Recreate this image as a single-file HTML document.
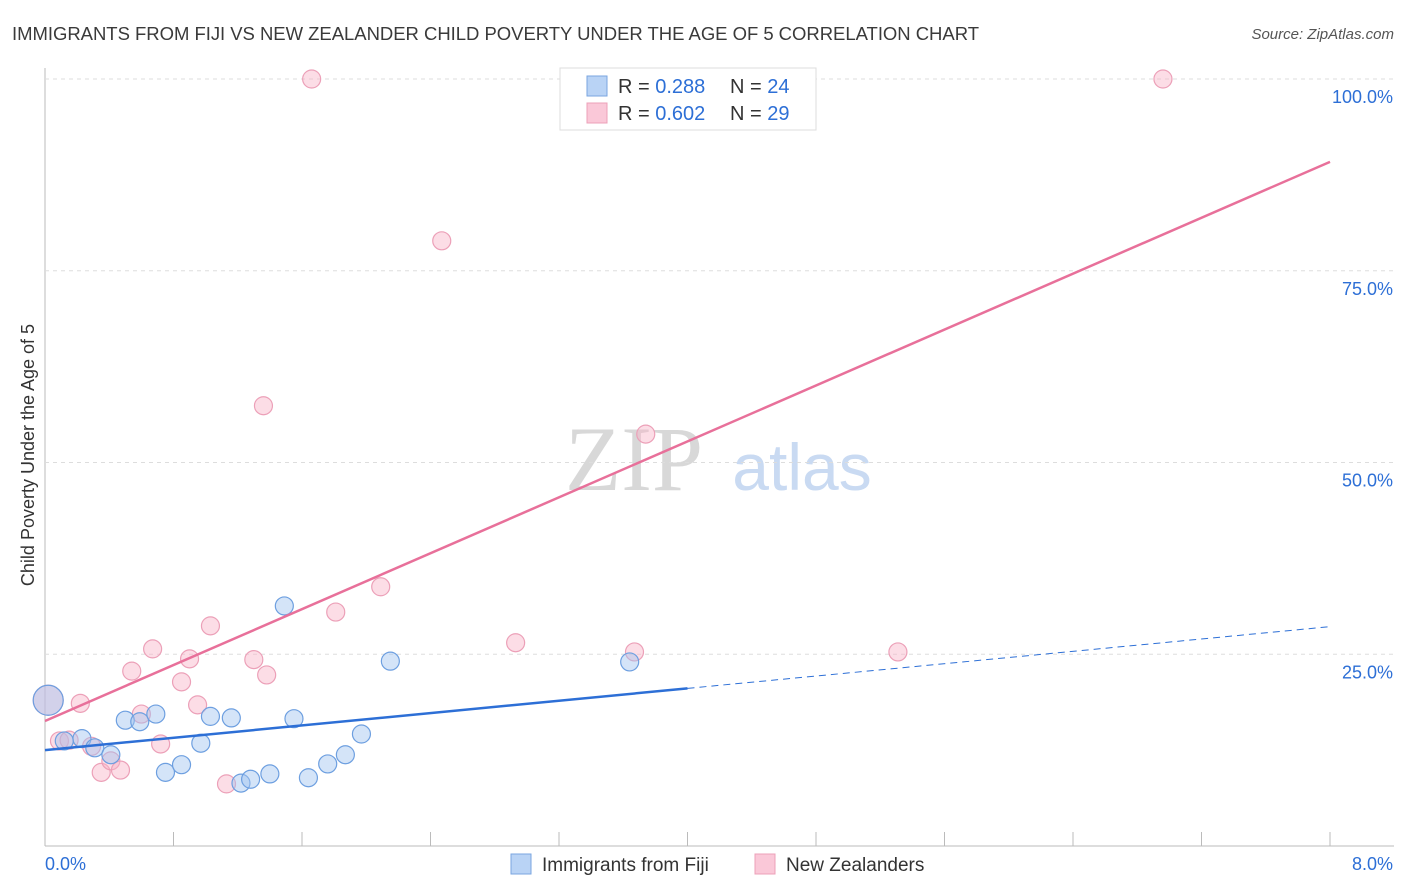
<!DOCTYPE html>
<html><head><meta charset="utf-8"><style>
body{margin:0;background:#fff;font-family:"Liberation Sans",sans-serif;}
svg{display:block}
</style></head><body>
<svg id="chart" width="1406" height="892">
<text x="12" y="40" font-size="18.5" fill="#3a3a3a" textLength="967">IMMIGRANTS FROM FIJI VS NEW ZEALANDER CHILD POVERTY UNDER THE AGE OF 5 CORRELATION CHART</text>
<text x="1394" y="39" font-size="15" fill="#555" text-anchor="end" font-style="italic">Source: ZipAtlas.com</text>
<text x="634" y="490" font-size="92" fill="#d8d8d8" font-family="Liberation Serif,serif" text-anchor="middle">ZIP</text>
<text x="802" y="490" font-size="66" fill="#c9daf2" text-anchor="middle">atlas</text>
<g id="grid"></g>
<g id="marks"></g>
<text transform="translate(34,455) rotate(-90)" font-size="18" fill="#333" text-anchor="middle">Child Poverty Under the Age of 5</text>
<g>
<rect x="560" y="68" width="256" height="62" fill="#fff" stroke="#ddd"/>
<rect x="587" y="76" width="20" height="20" fill="#b9d3f5" stroke="#7aa6e0"/>
<rect x="587" y="103" width="20" height="20" fill="#fac8d8" stroke="#eca0b8"/>
<text x="618" y="93" font-size="20" fill="#333">R = <tspan fill="#2d6fd6">0.288</tspan></text>
<text x="730" y="93" font-size="20" fill="#333">N = <tspan fill="#2d6fd6">24</tspan></text>
<text x="618" y="120" font-size="20" fill="#333">R = <tspan fill="#2d6fd6">0.602</tspan></text>
<text x="730" y="120" font-size="20" fill="#333">N = <tspan fill="#2d6fd6">29</tspan></text>
</g>
<g>
<rect x="511" y="854" width="20" height="20" fill="#b9d3f5" stroke="#7aa6e0"/>
<text x="542" y="871" font-size="19" fill="#333">Immigrants from Fiji</text>
<rect x="755" y="854" width="20" height="20" fill="#fac8d8" stroke="#eca0b8"/>
<text x="786" y="871" font-size="19" fill="#333">New Zealanders</text>
</g>
</svg>
<script>
const xTicks=[0,0.8,1.6,2.4,3.2,4.0,4.8,5.6,6.4,7.2,8.0];
const yTicks=[25,50,75,100];
const yTickLabels=["25.0%","50.0%","75.0%","100.0%"];
const fijiX=[0.02,0.12,0.23,0.31,0.41,0.50,0.59,0.69,0.75,0.85,0.97,1.03,1.16,1.22,1.28,1.40,1.49,1.55,1.64,1.76,1.87,1.97,2.15,3.64];
const fijiY=[19.0,13.7,14.0,12.8,11.9,16.4,16.2,17.2,9.6,10.6,13.4,16.9,16.7,8.2,8.7,9.4,31.3,16.6,8.9,10.7,11.9,14.6,24.1,24.0];
const nzX=[0.02,0.09,0.15,0.22,0.29,0.35,0.41,0.47,0.54,0.60,0.67,0.72,0.85,0.90,0.95,1.03,1.13,1.30,1.36,1.38,1.66,1.81,2.09,2.47,2.93,3.67,3.74,5.31,6.96];
const nzY=[19.0,13.7,13.8,18.6,13.0,9.6,11.1,9.9,22.8,17.2,25.7,13.3,21.4,24.4,18.4,28.7,8.1,24.3,57.4,22.3,100,30.5,33.8,78.9,26.5,25.3,53.7,25.3,100];
const fijiTrend=[12.5,28.6];
const nzTrend=[16.3,89.2];
const NS='http://www.w3.org/2000/svg';
const X=v=>45+v/8*1285, Y=v=>846-v/100*767;
function mk(t,a,p){const e=document.createElementNS(NS,t);for(const k in a)e.setAttribute(k,a[k]);p.appendChild(e);return e;}
const g=document.getElementById('grid'),m=document.getElementById('marks');
mk('line',{x1:45,y1:68,x2:45,y2:846,stroke:'#bbb'},g);
mk('line',{x1:45,y1:846,x2:1394,y2:846,stroke:'#bbb'},g);
yTicks.forEach((t,i)=>{
 const l=mk('line',{x1:45,y1:Y(t),x2:1394,y2:Y(t),stroke:'#ddd','stroke-dasharray':'4,4'},g);
 
 
 const tx=mk('text',{x:1393,y:Y(t)+24,'font-size':18,fill:'#2d6fd6','text-anchor':'end'},g);tx.textContent=yTickLabels[i];
 
 
});
xTicks.forEach(t=>{mk('line',{x1:X(t),y1:832,x2:X(t),y2:846,stroke:'#bbb'},g);});
let t0=mk('text',{x:45,y:870,'font-size':18,fill:'#2d6fd6'},g);t0.textContent='0.0%';


let t8=mk('text',{x:1393,y:870,'font-size':18,fill:'#2d6fd6','text-anchor':'end'},g);t8.textContent='8.0%';


function pts(xs,ys,fill,stroke,name){xs.forEach((x,i)=>{
 const c=mk('circle',{cx:X(x),cy:Y(ys[i]),r:i===0&&x<0.05?15:9,fill:fill,stroke:stroke,'stroke-width':1.2},m);
 
 
});}
pts(nzX,nzY,'rgba(248,180,200,0.45)','#eca0b8','point-nz');
pts(fijiX,fijiY,'rgba(160,195,240,0.45)','#6d9fe0','point-fiji');
const fy=x=>fijiTrend[0]+(fijiTrend[1]-fijiTrend[0])*x/8, ny=x=>nzTrend[0]+(nzTrend[1]-nzTrend[0])*x/8;
let l1=mk('line',{x1:X(0),y1:Y(fy(0)),x2:X(4),y2:Y(fy(4)),stroke:'#2d6fd6','stroke-width':2.5},m);


let l2=mk('line',{x1:X(4),y1:Y(fy(4)),x2:X(8),y2:Y(fy(8)),stroke:'#2d6fd6','stroke-width':1,'stroke-dasharray':'7,5'},m);


let l3=mk('line',{x1:X(0),y1:Y(ny(0)),x2:X(8),y2:Y(ny(8)),stroke:'#e8709a','stroke-width':2.5},m);


</script>
</body></html>
